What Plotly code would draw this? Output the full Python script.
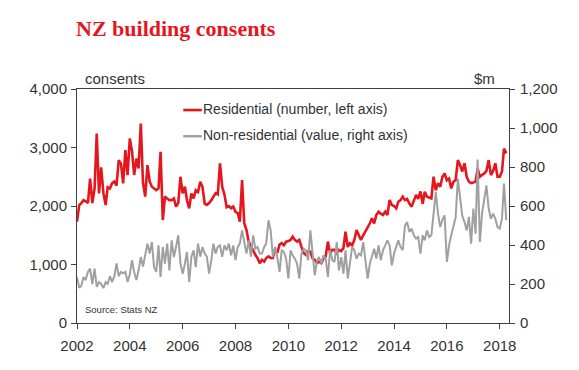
import plotly.graph_objects as go
import pandas as pd

# Monthly data, Jan 2002 - Apr 2018
residential = [
    # 2002
    1732, 2017, 2050, 2100, 2080, 2050, 2470, 2050, 2300, 3240, 2216, 2660,
    # 2003
    2220, 2017, 2320, 2300, 2387, 2420, 2350, 2785, 2720, 2387, 2955, 2528,
    # 2004
    3155, 2930, 2530, 2810, 2640, 3410, 2400, 2160, 2700, 2420, 2330, 2300,
    # 2005
    2270, 2300, 2926, 1760, 2160, 2130, 2100, 2100, 2130, 1990, 2050, 2500,
    # 2006
    2215, 2330, 2100, 1960, 2215, 2130, 2270, 2240, 2415, 2330, 2040, 2020,
    # 2007
    2050, 2100, 2160, 2220, 2200, 2730, 2330, 2200, 1980, 2000, 1960, 1990,
    # 2008
    1900, 1880, 1730, 2444, 1705, 1590, 1392, 1306, 1250, 1165, 1108, 1023,
    # 2009
    1080, 1050, 1110, 1140, 1110, 1110, 1250, 1200, 1340, 1364, 1330, 1390,
    # 2010
    1400, 1420, 1476, 1420, 1392, 1420, 1300, 1193, 1165, 1220, 1220, 1108,
    # 2011
    1080, 1023, 1050, 1023, 1100, 1140, 1392, 1193, 1250, 1250, 1193, 1250,
    # 2012
    1230, 1280, 1562, 1300, 1364, 1330, 1420, 1590, 1500, 1420, 1500, 1562,
    # 2013
    1620, 1705, 1790, 1700, 1846, 1903, 1870, 1846, 1903, 1846, 2102, 2017,
    # 2014
    2000, 1960, 2073, 2100, 2160, 2100, 2120, 2040, 1990, 2100, 2190, 2120,
    # 2015
    2250, 2040, 2245, 2160, 2150, 2130, 2500, 2270, 2390, 2330, 2500, 2557,
    # 2016
    2440, 2470, 2300, 2415, 2440, 2785, 2700, 2590, 2730, 2500, 2415, 2390,
    # 2017
    2400, 2415, 2643, 2500, 2530, 2557, 2600, 2785, 2528, 2600, 2730, 2500,
    # 2018
    2500, 2590, 2983, 2900,
]

non_residential = [
    # 2002
    235, 180, 190, 236, 220, 262, 279, 200, 279, 185, 210, 200,
    # 2003
    179, 210, 200, 240, 210, 240, 305, 240, 262, 255, 262, 210,
    # 2004
    250, 322, 262, 220, 270, 338, 290, 356, 407, 356, 415, 287,
    # 2005
    262, 398, 236, 390, 305, 407, 270, 424, 338, 390, 450, 305,
    # 2006
    253, 305, 364, 210, 340, 373, 287, 407, 340, 390, 356, 340,
    # 2007
    253, 322, 407, 356, 390, 398, 340, 398, 373, 407, 347, 398,
    # 2008
    322, 390, 407, 475, 415, 356, 424, 340, 450, 381, 390, 356,
    # 2009
    356, 390, 407, 527, 475, 338, 390, 338, 262, 375, 364, 330,
    # 2010
    228, 373, 347, 330, 305, 228, 356, 381, 373, 322, 475, 356,
    # 2011
    245, 322, 338, 305, 347, 330, 236, 373, 322, 313, 415, 270,
    # 2012
    338, 253, 373, 228, 322, 390, 373, 330, 356, 347, 415, 322,
    # 2013
    228, 305, 347, 381, 330, 398, 322, 373, 398, 424, 398, 296,
    # 2014
    356, 390, 424, 390, 373, 500, 518, 467, 484, 450, 433, 441,
    # 2015
    356, 450, 424, 475, 441, 450, 552, 672, 560, 492, 530, 552,
    # 2016
    313, 400, 450, 492, 540, 740, 629, 550, 518, 475, 544, 407,
    # 2017
    587, 458, 838, 415, 561, 646, 706, 587, 535, 561, 535, 492,
    # 2018
    484, 535, 715, 527,
]

dates = pd.date_range("2002-01-01", periods=len(residential), freq="MS")

res_name = "Residential (number, left axis)"
nonres_name = "Non-residential (value, right axis)"
title_text = "NZ building consents"
left_label = "consents"
right_label = "$m"
source_text = "Source: Stats NZ"

RED = "#E5171E"
GREY = "#A0A0A0"
AXIS = "#404040"
TXT = "#333333"
SANS = "Liberation Sans, Arial, sans-serif"

fig = go.Figure()
fig.add_trace(go.Scatter(
    x=dates, y=non_residential, name=nonres_name, yaxis="y2",
    mode="lines", line=dict(color=GREY, width=2), showlegend=False,
))
fig.add_trace(go.Scatter(
    x=dates, y=residential, name=res_name, yaxis="y",
    mode="lines", line=dict(color=RED, width=2.6), showlegend=False,
))

tick_font = dict(family=SANS, size=15, color=TXT)
legend_font = dict(family=SANS, size=14, color=TXT)

# legend drawn as short line keys plus text (paper coordinates)
key_x0, key_x1 = 0.246, 0.289
legend_rows = [(res_name, RED, 0.910, 2.6), (nonres_name, GREY, 0.798, 2.4)]
shapes = []
legend_annots = []
for name, color, yy, w in legend_rows:
    shapes.append(dict(type="line", xref="paper", yref="paper",
                       x0=key_x0, x1=key_x1, y0=yy, y1=yy,
                       line=dict(color=color, width=w)))
    legend_annots.append(dict(text=name, xref="paper", yref="paper",
                              x=key_x1, y=yy, xanchor="left", yanchor="middle",
                              xshift=-1, yshift=1, showarrow=False, font=legend_font))

fig.update_layout(
    width=579, height=370,
    margin=dict(l=69, r=78, t=81, b=55),
    paper_bgcolor="white", plot_bgcolor="white",
    showlegend=False,
    title=dict(
        text="<b>" + title_text + "</b>",
        font=dict(family="Liberation Serif, Times New Roman, serif", size=22, color=RED),
        xref="container", x=68 / 579, xanchor="left",
        yref="container", y=1 - 20 / 370, yanchor="middle",
    ),
    xaxis=dict(
        type="date",
        range=["2002-01-01", "2018-05-09"],
        tick0="2002-01-01", dtick="M24", tickformat="%Y",
        showline=True, linecolor=AXIS, linewidth=1, mirror=True,
        ticks="outside", ticklen=5, tickcolor=AXIS,
        showgrid=False, zeroline=False,
        tickfont=tick_font, ticklabelstandoff=4,
    ),
    yaxis=dict(
        range=[0, 4000], dtick=1000, tickformat=",",
        showline=True, linecolor=AXIS, linewidth=1,
        ticks="outside", ticklen=5, tickcolor=AXIS,
        showgrid=False, zeroline=False,
        tickfont=tick_font, ticklabelstandoff=1,
    ),
    yaxis2=dict(
        range=[0, 1200], dtick=200, tickformat=",",
        overlaying="y", side="right",
        showline=True, linecolor=AXIS, linewidth=1,
        ticks="outside", ticklen=5, tickcolor=AXIS,
        showgrid=False, zeroline=False,
        tickfont=tick_font, ticklabelstandoff=2,
    ),
    shapes=shapes,
    annotations=[
        dict(text=left_label, xref="paper", yref="paper", x=0, y=1,
             xanchor="left", yanchor="bottom", xshift=6, yshift=0, showarrow=False,
             font=tick_font),
        dict(text=right_label, xref="paper", yref="paper", x=1, y=1,
             xanchor="right", yanchor="bottom", xshift=-12, yshift=0, showarrow=False,
             font=tick_font),
        dict(text=source_text, xref="paper", yref="paper", x=0, y=0,
             xanchor="left", yanchor="bottom", xshift=6, yshift=6, showarrow=False,
             font=dict(family=SANS, size=9.5, color=TXT)),
    ] + legend_annots,
)

fig.write_html("out.html")
